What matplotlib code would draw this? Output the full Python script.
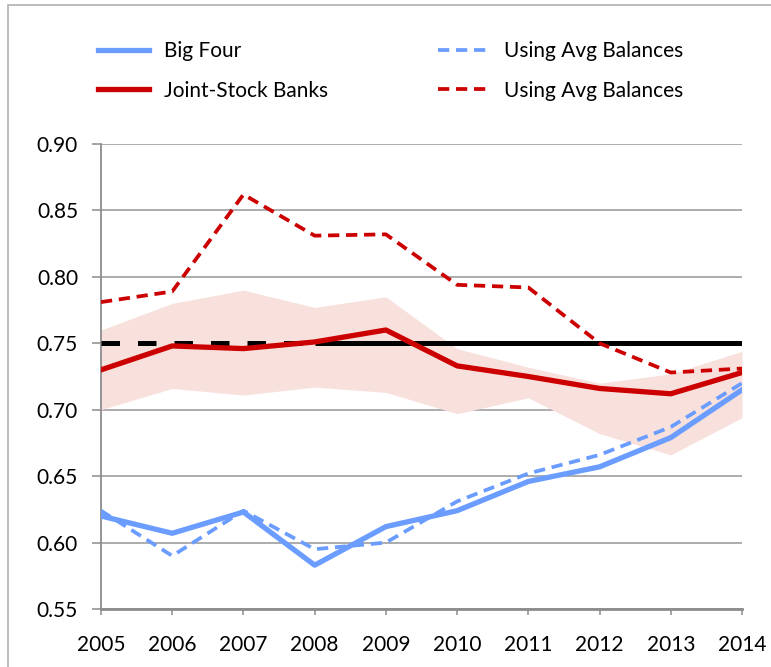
import numpy as np
import matplotlib
matplotlib.use("Agg")
import matplotlib.pyplot as plt
from matplotlib.patches import Rectangle

years = [2005, 2006, 2007, 2008, 2009, 2010, 2011, 2012, 2013, 2014]

big_four = [0.620, 0.607, 0.623, 0.583, 0.612, 0.624, 0.646, 0.657, 0.679, 0.715]
big_four_avg = [0.624, 0.590, 0.624, 0.595, 0.600, 0.631, 0.652, 0.666, 0.687, 0.720]

jsb = [0.730, 0.748, 0.746, 0.751, 0.760, 0.733, 0.725, 0.716, 0.712, 0.728]
jsb_avg = [0.781, 0.789, 0.862, 0.831, 0.832, 0.794, 0.792, 0.750, 0.728, 0.731]

jsb_band_hi = [0.760, 0.780, 0.790, 0.777, 0.785, 0.746, 0.732, 0.720, 0.727, 0.744]
jsb_band_lo = [0.700, 0.716, 0.711, 0.717, 0.713, 0.697, 0.709, 0.682, 0.666, 0.694]

target = 0.75
target_dashed_years = [2005, 2008]
target_solid_years = [2008, 2014]

yticks = [0.55, 0.60, 0.65, 0.70, 0.75, 0.80, 0.85, 0.90]

BLUE = "#6b9cff"
RED = "#cc0000"
BAND = "#f8e1dd"
GRID = "#a6a6a6"

plt.rcParams["font.family"] = ["Lato", "DejaVu Sans"]

fig = plt.figure(figsize=(7.71, 6.67), dpi=100)
ax = fig.add_axes([101 / 771, 1 - 609 / 667, 641 / 771, 465 / 667])

# chart frame like the original export
fig.patches.append(Rectangle((8 / 771, -0.1), 1.2, 1 - 5 / 667 + 0.1,
                             transform=fig.transFigure, fill=False,
                             edgecolor="#b0b0b0", linewidth=1.2, zorder=0))

ax.fill_between(years, jsb_band_lo, jsb_band_hi, color=BAND, linewidth=0, zorder=1)

ax.plot(target_dashed_years, [target, target], color="black", lw=3.6,
        dashes=(3.7, 3.6), zorder=3)
ax.plot(target_solid_years, [target, target], color="black", lw=3.6,
        solid_capstyle="butt", zorder=3)

ax.plot(years, big_four, color=BLUE, lw=3.8, label="Big Four", zorder=4)
ax.plot(years, jsb, color=RED, lw=3.8, label="Joint-Stock Banks", zorder=5)
ax.plot(years, big_four_avg, color=BLUE, lw=2.7, dashes=(3, 1.8),
        label="Using Avg Balances", zorder=4)
ax.plot(years, jsb_avg, color=RED, lw=2.7, dashes=(3, 1.8),
        label="Using Avg Balances", zorder=5)

ax.set_xlim(2005, 2014)
ax.set_ylim(0.55, 0.90)
ax.set_xticks(years)
ax.set_yticks(yticks)
ax.set_yticklabels([f"{v:.2f}" for v in yticks])
ax.yaxis.grid(True, color=GRID, lw=1.3, zorder=0)
ax.set_axisbelow(True)

for s in ["top", "right"]:
    ax.spines[s].set_visible(False)
ax.spines["left"].set_color("#8c8c8c")
ax.spines["left"].set_linewidth(1.3)
ax.spines["bottom"].set_color("#8c8c8c")
ax.spines["bottom"].set_linewidth(2.0)
ax.tick_params(axis="y", length=6.5, width=1.1, color="#8c8c8c", labelsize=15, pad=10)
ax.tick_params(axis="x", length=4, width=1.1, color="#8c8c8c", labelsize=15, pad=15)

fig.legend(loc="upper left", bbox_to_anchor=(98 / 771, 1 - 41 / 667), ncol=2,
           frameon=False, fontsize=15, handlelength=2.45, handletextpad=0.72,
           columnspacing=5.25, labelspacing=0.95, borderpad=0, borderaxespad=0)

fig.savefig("out.png", dpi=100)
